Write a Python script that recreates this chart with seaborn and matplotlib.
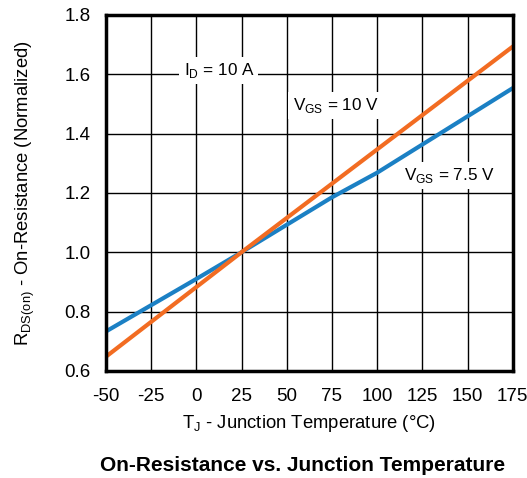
import pandas as pd
import matplotlib.pyplot as plt
import seaborn as sns

# data
temp_10v = [-50, 25, 175]
rds_10v = [0.648, 1.0, 1.693]
temp_75v = [-50, 0, 25, 75, 100, 175]
rds_75v = [0.733, 0.91, 1.0, 1.185, 1.268, 1.553]
x_ticks = [-50, -25, 0, 25, 50, 75, 100, 125, 150, 175]
y_ticks = [0.6, 0.8, 1.0, 1.2, 1.4, 1.6, 1.8]

df = pd.concat([
    pd.DataFrame({"Tj": temp_10v, "Rds": rds_10v, "Vgs": "10 V"}),
    pd.DataFrame({"Tj": temp_75v, "Rds": rds_75v, "Vgs": "7.5 V"}),
])

sns.set_style("white")
plt.rcParams["font.family"] = ["Liberation Sans", "DejaVu Sans"]
plt.rcParams["text.color"] = "black"
plt.rcParams["axes.labelcolor"] = "black"
plt.rcParams["xtick.color"] = "black"
plt.rcParams["ytick.color"] = "black"

fig = plt.figure(figsize=(5.27, 4.78), dpi=100)
ax = fig.add_axes([0.201, 0.224, 0.772, 0.745])

sns.lineplot(data=df, x="Tj", y="Rds", hue="Vgs",
             palette={"10 V": "#f26c22", "7.5 V": "#1b80c4"},
             hue_order=["7.5 V", "10 V"], linewidth=3, legend=False, ax=ax, zorder=3)

ax.set_xlim(-50, 175)
ax.set_ylim(0.6, 1.8)
ax.set_xticks(x_ticks)
ax.set_yticks(y_ticks)
ax.set_xticklabels([str(t) for t in x_ticks], fontsize=13.5)
ax.set_yticklabels([f"{t:.1f}" for t in y_ticks], fontsize=13.5)
ax.tick_params(axis="x", length=0, pad=12)
ax.tick_params(axis="y", length=0, pad=11)
ax.grid(True, color="black", linewidth=1)
for s in ax.spines.values():
    s.set_linewidth(2.5)
    s.set_color("black")
    s.set_zorder(5)

ax.set_xlabel("T$_\\mathregular{J}$ - Junction Temperature (°C)", fontsize=13.3, labelpad=6)
ax.set_ylabel("R$_\\mathregular{DS(on)}$ - On-Resistance (Normalized)", fontsize=13.3, labelpad=20)

box = dict(facecolor="white", edgecolor="none", pad=3)
ax.text(12.5, 1.612, "I$_\\mathregular{D}$ = 10 A", fontsize=12.3, ha="center", va="center", bbox=box, zorder=4)
ax.text(77, 1.495, "V$_\\mathregular{GS}$ = 10 V", fontsize=12.3, ha="center", va="center", bbox=box, zorder=4)
ax.text(140, 1.258, "V$_\\mathregular{GS}$ = 7.5 V", fontsize=12.3, ha="center", va="center", bbox=box, zorder=4)

fig.text(0.574, 0.027, "On-Resistance vs. Junction Temperature", fontsize=15,
         fontweight="bold", ha="center", va="center")

fig.savefig("out.png", dpi=100)
